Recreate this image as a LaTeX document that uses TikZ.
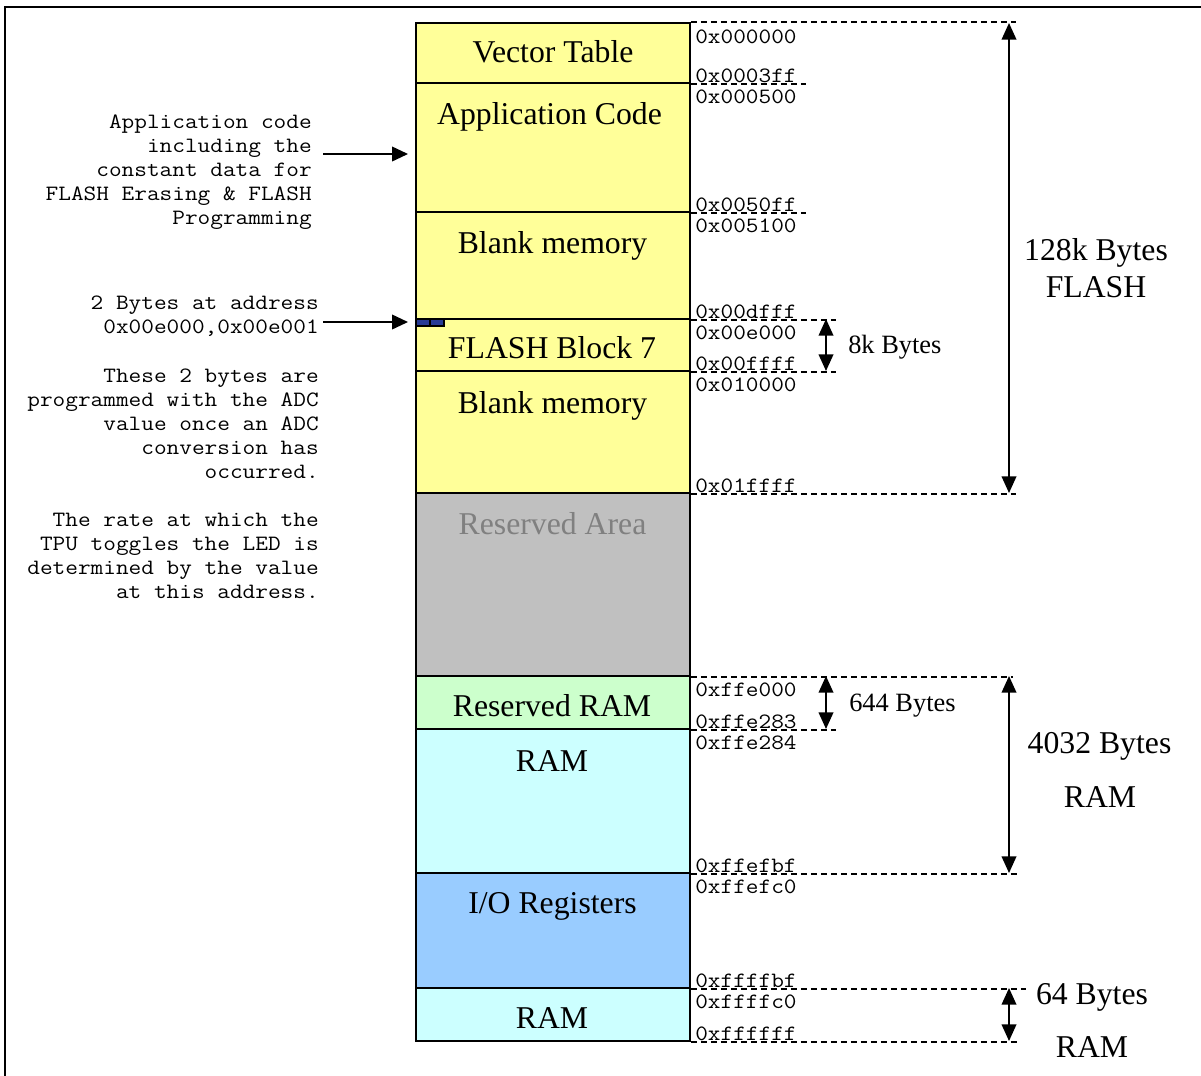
\documentclass[tikz,border=0pt]{standalone}
\usepackage{fontspec}
\usepackage{graphicx}
\setmainfont{Liberation Serif}
\newcommand\mt[1]{\scalebox{1.125}[1]{#1}}
\usetikzlibrary{arrows.meta,fit}
\definecolor{yel}{HTML}{FFFF99}
\definecolor{gry}{HTML}{C0C0C0}
\definecolor{grn}{HTML}{CCFFCC}
\definecolor{cyn}{HTML}{CCFFFF}
\definecolor{blu}{HTML}{99CCFF}
\definecolor{restxt}{HTML}{808080}
\definecolor{blk}{RGB}{40,60,150}
\begin{document}
\begin{tikzpicture}[x=0.75pt,y=-0.75pt,
  region/.style={draw=black, line width=1.4pt, inner sep=0pt},
  big/.style={font=\fontsize{23.8}{28}\selectfont, inner sep=0pt, anchor=base},
  mid/.style={font=\fontsize{19.8}{24}\selectfont, inner sep=0pt, anchor=base west},
  addr/.style={font=\fontsize{16.4}{18}\selectfont\ttfamily, inner sep=0pt, anchor=base west},
  note/.style={font=\fontsize{16.4}{18}\selectfont\ttfamily, inner sep=0pt, anchor=base east},
  guide/.style={dash pattern=on 4.5pt off 3pt, line width=1pt},
  dim/.style={{Triangle[length=12.5pt,width=11pt]}-{Triangle[length=12.5pt,width=11pt]}, line width=1.3pt},
  ptr/.style={-{Triangle[length=12pt,width=11pt]}, line width=1.3pt}]

\useasboundingbox (0,0) rectangle (1201,1075);
\fill[white] (0,0) rectangle (1201,1075);
\draw[line width=2.2pt] (5,1100) -- (5,7) -- (1230,7);

% memory regions
\node[region, fill=yel, fit={(416,23)(690,83)}] (vt) {};
\node[region, fill=yel, fit={(416,83)(690,212)}] (app) {};
\node[region, fill=yel, fit={(416,212)(690,319)}] (bl1) {};
\node[region, fill=yel, fit={(416,319)(690,371)}] (f7) {};
\node[region, fill=yel, fit={(416,371)(690,493)}] (bl2) {};
\node[region, fill=gry, fit={(416,493)(690,676)}] (res) {};
\node[region, fill=grn, fit={(416,676)(690,729)}] (rram) {};
\node[region, fill=cyn, fit={(416,729)(690,873)}] (ram1) {};
\node[region, fill=blu, fit={(416,873)(690,988)}] (io) {};
\node[region, fill=cyn, fit={(416,988)(690,1041)}] (ram2) {};

% two bytes
\node[draw=black, line width=0.8pt, fill=blk, inner sep=0pt, fit={(416,319)(430,326)}] (by1) {};
\node[draw=black, line width=0.8pt, fill=blk, inner sep=0pt, fit={(430,319)(444,326)}] (by2) {};

% region labels
\node[big] (tvt) at (553,62) {Vector Table};
\node[big] (tapp) at (549.5,124) {Application Code};
\node[big] (tbl1) at (552.5,253) {Blank memory};
\node[big] (tf7) at (552,358) {FLASH Block 7};
\node[big] (tbl2) at (552.5,413) {Blank memory};
\node[big, text=restxt] (tres) at (552.5,534) {Reserved Area};
\node[big] (trram) at (552,716) {Reserved RAM};
\node[big] (tram1) at (552,771) {RAM};
\node[big] (tio) at (552.5,913) {I/O Registers};
\node[big] (tram2) at (552,1028) {RAM};

% dashed guides
\draw[guide] (vt.north east) -- ++(325,0);
\draw[guide] (vt.south east) -- ++(115,0);
\draw[guide] (app.south east) -- ++(115,0);
\draw[guide] (bl1.south east) -- ++(145,0);
\draw[guide] (f7.south east) -- ++(145,0);
\draw[guide] (bl2.south east) -- ++(325,0);
\draw[guide] (res.south east) -- ++(322,0);
\draw[guide] (rram.south east) -- ++(145,0);
\draw[guide] (ram1.south east) -- ++(327,0);
\draw[guide] (io.south east) -- ++(335,0);
\draw[guide] (ram2.south east) -- ++(327,0);

% addresses
\node[addr] (a1) at (695,43) {\mt{0x000000}};
\node[addr] (a2) at (695,82) {\mt{0x0003ff}};
\node[addr] (a3) at (695,103) {\mt{0x000500}};
\node[addr] (a4) at (695,211) {\mt{0x0050ff}};
\node[addr] (a5) at (695,232) {\mt{0x005100}};
\node[addr] (a6) at (695,318) {\mt{0x00dfff}};
\node[addr] (a7) at (695,339) {\mt{0x00e000}};
\node[addr] (a8) at (695,370) {\mt{0x00ffff}};
\node[addr] (a9) at (695,391) {\mt{0x010000}};
\node[addr] (a10) at (695,492) {\mt{0x01ffff}};
\node[addr] (a11) at (695,696) {\mt{0xffe000}};
\node[addr] (a12) at (695,728) {\mt{0xffe283}};
\node[addr] (a13) at (695,749) {\mt{0xffe284}};
\node[addr] (a14) at (695,872) {\mt{0xffefbf}};
\node[addr] (a15) at (695,893) {\mt{0xffefc0}};
\node[addr] (a16) at (695,987) {\mt{0xffffbf}};
\node[addr] (a17) at (695,1008) {\mt{0xffffc0}};
\node[addr] (a18) at (695,1040) {\mt{0xffffff}};

% dimension arrows
\coordinate (d1a) at (1009,23);  \coordinate (d1b) at (1009,493);
\coordinate (d2a) at (826,319);  \coordinate (d2b) at (826,371);
\coordinate (d3a) at (826,676);  \coordinate (d3b) at (826,729);
\coordinate (d4a) at (1009,676); \coordinate (d4b) at (1009,873);
\coordinate (d5a) at (1009,988); \coordinate (d5b) at (1009,1041);
\draw[dim] (d1a) -- (d1b);
\draw[dim] (d2a) -- (d2b);
\draw[dim] (d3a) -- (d3b);
\draw[dim] (d4a) -- (d4b);
\draw[dim] (d5a) -- (d5b);

% dimension labels
\node[big] (s1) at (1096,260) {128k Bytes};
\node[big] (s1b) at (1096,297) {FLASH};
\node[mid] (s2) at (848,353) {8k Bytes};
\node[mid] (s3) at (849,711) {644 Bytes};
\node[big] (s4) at (1099.5,753) {4032 Bytes};
\node[big] (s4b) at (1100,807) {RAM};
\node[big] (s5) at (1092,1004) {64 Bytes};
\node[big] (s5b) at (1092,1057) {RAM};

% notes
\node[note] (n1) at (312,128) {\mt{Application code}};
\node[note] (n2) at (312,152) {\mt{including the}};
\node[note] (n3) at (312,176) {\mt{constant data for}};
\node[note] (n4) at (312,200) {\mt{FLASH Erasing \& FLASH}};
\node[note] (n5) at (312,224) {\mt{Programming}};

\node[note] (m1) at (319,309) {\mt{2 Bytes at address}};
\node[note] (m2) at (319,333) {\mt{0x00e000,0x00e001}};
\node[note] (m3) at (319,382) {\mt{These 2 bytes are}};
\node[note] (m4) at (319,406) {\mt{programmed with the ADC}};
\node[note] (m5) at (319,430) {\mt{value once an ADC}};
\node[note] (m6) at (319,454) {\mt{conversion has}};
\node[note] (m7) at (319,478) {\mt{occurred.}};
\node[note] (m8) at (319,526) {\mt{The rate at which the}};
\node[note] (m9) at (319,550) {\mt{TPU toggles the LED is}};
\node[note] (m10) at (319,574) {\mt{determined by the value}};
\node[note] (m11) at (319,598) {\mt{at this address.}};

% pointers
\coordinate (p1) at (323,154);
\coordinate (p1e) at (408,154);
\draw[ptr] (p1) -- (p1e);
\coordinate (p2) at (323,322);
\coordinate (p2e) at (408,322);
\draw[ptr] (p2) -- (p2e);
\end{tikzpicture}
\end{document}
